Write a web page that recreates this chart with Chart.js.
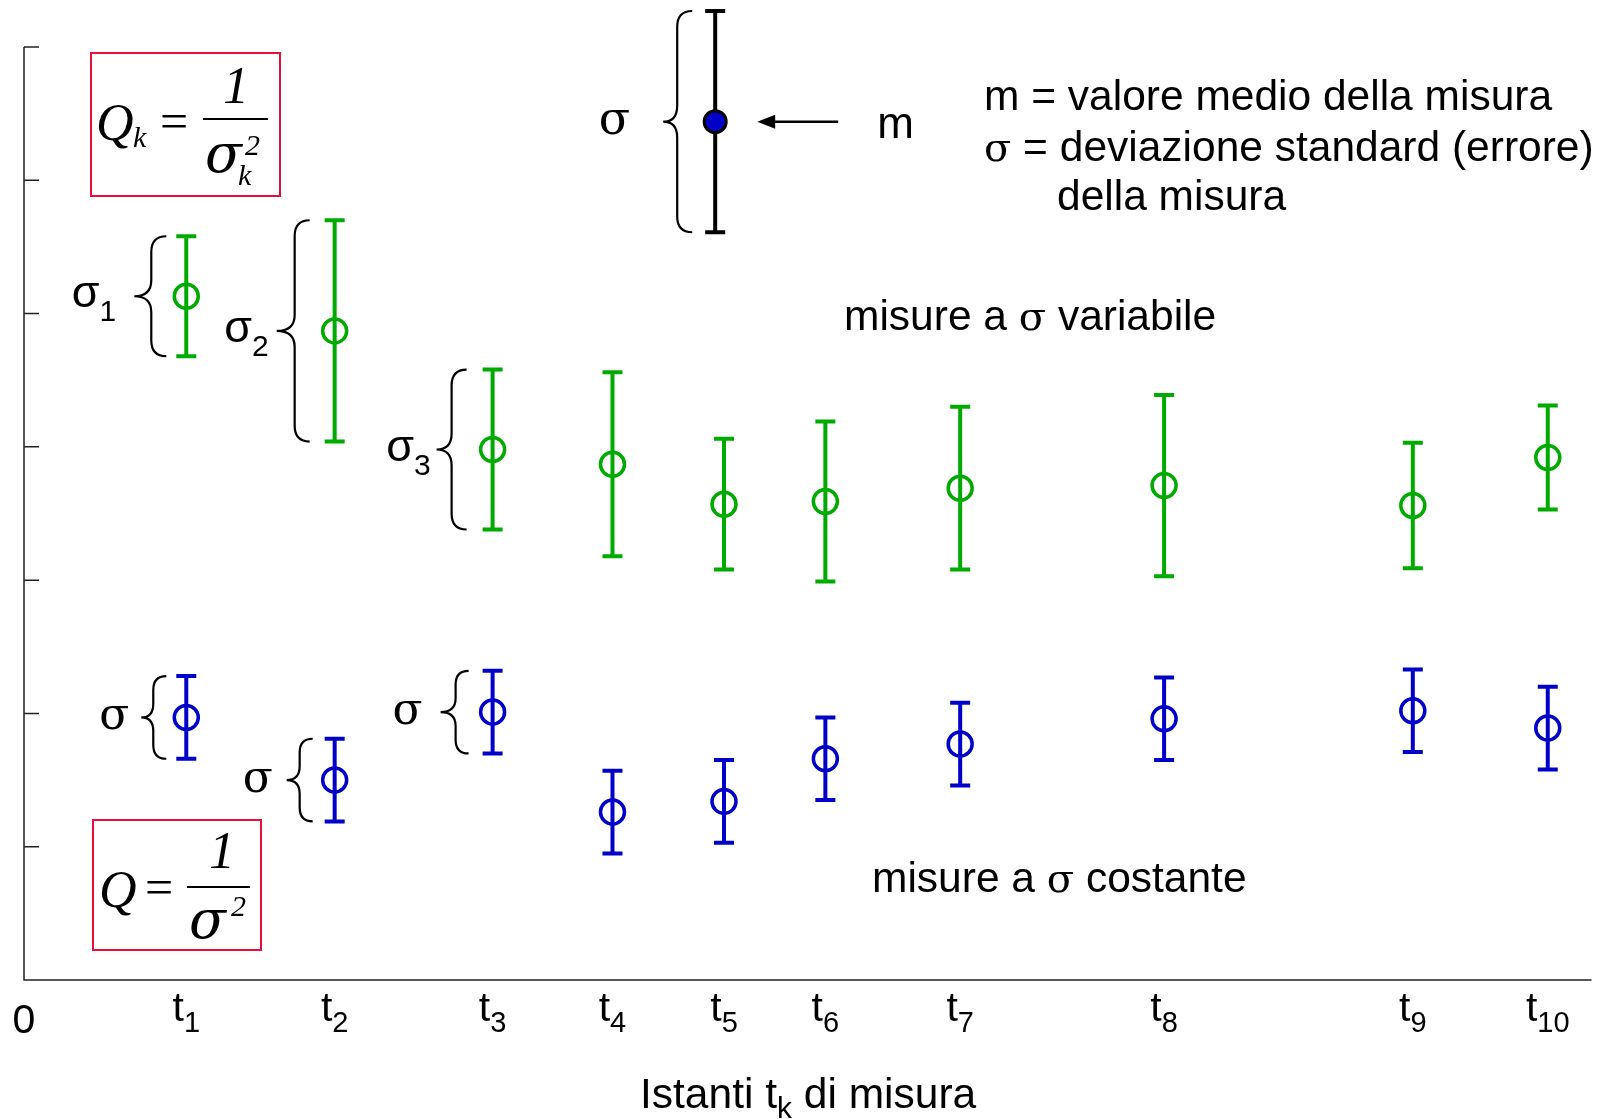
<!DOCTYPE html>
<html>
<head>
<meta charset="utf-8">
<script src="https://cdn.jsdelivr.net/npm/chart.js@4/dist/chart.umd.min.js"></script>
<style>
  html, body { margin: 0; padding: 0; background: #fff; }
  #wrap { width: 1607px; height: 1119px; position: relative; }
</style>
</head>
<body>
<div id="wrap"><canvas id="chart"></canvas></div>
<script>
// measurement instants (x axis, arbitrary time units) and their subscripts
const tSubs = ['1', '2', '3', '4', '5', '6', '7', '8', '9', '10'];
const tValues = [1.087, 2.081, 3.139, 3.942, 4.689, 5.368, 6.271, 7.637, 9.303, 10.207];

// measures with variable sigma (green)
const greenMean = [5.13, 4.87, 3.98, 3.87, 3.57, 3.59, 3.69, 3.71, 3.56, 3.92];
const greenSigma = [0.45, 0.83, 0.60, 0.69, 0.49, 0.60, 0.61, 0.68, 0.47, 0.39];

// measures with constant sigma (blue)
const blueMean = [1.97, 1.50, 2.01, 1.26, 1.34, 1.66, 1.77, 1.96, 2.02, 1.89];
const blueSigma = [0.31, 0.31, 0.31, 0.31, 0.31, 0.31, 0.31, 0.31, 0.31, 0.31];

// reference point explaining m and sigma
const refT = [4.63];
const refMean = [6.44];
const refSigma = [0.83];

const yTicks = [0, 1, 2, 3, 4, 5, 6, 7];
const xMin = 0, xMax = 10.5, yMin = 0, yMax = 7;

const GREEN = '#00aa00';
const BLUE = '#0000c8';
const RED = '#e8103a';
const SANS = '"Liberation Sans", Arial, sans-serif';
const SERIF = '"Liberation Serif", "Times New Roman", serif';
const GREEK = '"DejaVu Serif", serif';
const TXT = '42.5px ' + SANS;

// braces drawn left of some error bars: offsets in px from the bar
const braces = [
  { set: 'green', i: 0, sub: '1', end: -20, spine: -35, tip: -52, labelRight: -70 },
  { set: 'green', i: 1, sub: '2', end: -25, spine: -40, tip: -58, labelRight: -66 },
  { set: 'green', i: 2, sub: '3', end: -26, spine: -41, tip: -56, labelRight: -62 },
  { set: 'blue', i: 0, end: -20, spine: -33, tip: -45, labelRight: -57 },
  { set: 'blue', i: 1, end: -22, spine: -35, tip: -48, labelRight: -62 },
  { set: 'blue', i: 2, end: -24, spine: -37, tip: -52, labelRight: -70 },
  { set: 'ref', i: 0, end: -23, spine: -38, tip: -52, labelRight: -85 }
];

const sets = {
  green: { t: tValues, m: greenMean, s: greenSigma, color: GREEN },
  blue: { t: tValues, m: blueMean, s: blueSigma, color: BLUE },
  ref: { t: refT, m: refMean, s: refSigma, color: '#000' }
};

function points(ts, ms) {
  return ts.map((t, i) => ({ x: t, y: ms[i] }));
}

function text(ctx, str, x, y, font, align) {
  ctx.font = font;
  ctx.textAlign = align || 'left';
  ctx.textBaseline = 'alphabetic';
  ctx.fillText(str, x, y);
  return ctx.measureText(str).width;
}

function drawBrace(ctx, xEnd, xSpine, xTip, yTop, yBot) {
  const yMid = (yTop + yBot) / 2;
  const r = Math.min(16, (yBot - yTop) / 6);
  ctx.beginPath();
  ctx.moveTo(xEnd, yTop);
  ctx.quadraticCurveTo(xSpine, yTop, xSpine, yTop + r);
  ctx.lineTo(xSpine, yMid - r);
  ctx.quadraticCurveTo(xSpine, yMid, xTip, yMid);
  ctx.quadraticCurveTo(xSpine, yMid, xSpine, yMid + r);
  ctx.lineTo(xSpine, yBot - r);
  ctx.quadraticCurveTo(xSpine, yBot, xEnd, yBot);
  ctx.stroke();
}

const errorBars = {
  id: 'errorBars',
  beforeDatasetsDraw(chart) {
    const ctx = chart.ctx;
    const xs = chart.scales.x, ys = chart.scales.y;
    ctx.save();
    ctx.lineCap = 'butt';
    Object.values(sets).forEach(set => {
      ctx.strokeStyle = set.color;
      ctx.lineWidth = 4;
      set.t.forEach((t, i) => {
        const px = xs.getPixelForValue(t);
        const top = ys.getPixelForValue(set.m[i] + set.s[i]);
        const bot = ys.getPixelForValue(set.m[i] - set.s[i]);
        ctx.beginPath();
        ctx.moveTo(px, top); ctx.lineTo(px, bot);
        ctx.moveTo(px - 10, top); ctx.lineTo(px + 10, top);
        ctx.moveTo(px - 10, bot); ctx.lineTo(px + 10, bot);
        ctx.stroke();
      });
    });
    ctx.restore();
  }
};

const decorations = {
  id: 'decorations',
  afterDatasetsDraw(chart) {
    const ctx = chart.ctx;
    const xs = chart.scales.x, ys = chart.scales.y;
    const x0 = xs.getPixelForValue(xMin);
    const y0 = ys.getPixelForValue(yMin);
    ctx.save();

    // axes
    ctx.strokeStyle = '#222';
    ctx.lineWidth = 1.5;
    ctx.beginPath();
    ctx.moveTo(x0, ys.getPixelForValue(yMax));
    ctx.lineTo(x0, y0);
    ctx.lineTo(xs.getPixelForValue(xMax), y0);
    yTicks.forEach(v => {
      const py = ys.getPixelForValue(v);
      ctx.moveTo(x0, py); ctx.lineTo(x0 + 15, py);
    });
    ctx.stroke();

    // x tick labels t_k
    ctx.fillStyle = '#000';
    text(ctx, '0', x0, 1033, '41px ' + SANS, 'center');
    tValues.forEach((t, i) => {
      const px = xs.getPixelForValue(t);
      ctx.font = '41px ' + SANS;
      const wT = ctx.measureText('t').width;
      ctx.font = '29px ' + SANS;
      const wS = ctx.measureText(tSubs[i]).width;
      const left = px - (wT + wS) / 2;
      text(ctx, 't', left, 1021, '41px ' + SANS);
      text(ctx, tSubs[i], left + wT, 1032, '29px ' + SANS);
    });

    // x axis title
    let cx = 640;
    cx += text(ctx, 'Istanti t', cx, 1108, TXT);
    cx += text(ctx, 'k', cx, 1118, '30px ' + SANS);
    text(ctx, ' di misura', cx, 1108, TXT);

    // braces with sigma labels
    ctx.strokeStyle = '#000';
    ctx.lineWidth = 2.2;
    braces.forEach(b => {
      const set = sets[b.set];
      const px = xs.getPixelForValue(set.t[b.i]);
      const top = ys.getPixelForValue(set.m[b.i] + set.s[b.i]);
      const bot = ys.getPixelForValue(set.m[b.i] - set.s[b.i]);
      const mid = (top + bot) / 2;
      drawBrace(ctx, px + b.end, px + b.spine, px + b.tip, top, bot);
      if (b.sub) {
        ctx.font = '30px ' + SANS;
        const wS = ctx.measureText(b.sub).width;
        text(ctx, b.sub, px + b.labelRight, mid + 25, '30px ' + SANS, 'right');
        text(ctx, 'σ', px + b.labelRight - wS, mid + 11, '45px ' + SANS, 'right');
      } else {
        const size = b.set === 'ref' ? 46 : 44;
        text(ctx, 'σ', px + b.labelRight, mid + 12, size + 'px ' + GREEK, 'right');
      }
    });

    // arrow pointing at m
    const rx = xs.getPixelForValue(refT[0]);
    const ry = ys.getPixelForValue(refMean[0]);
    ctx.lineWidth = 2.5;
    ctx.beginPath();
    ctx.moveTo(rx + 123, ry); ctx.lineTo(rx + 55, ry);
    ctx.stroke();
    ctx.beginPath();
    ctx.moveTo(rx + 42, ry);
    ctx.lineTo(rx + 60, ry - 7);
    ctx.lineTo(rx + 60, ry + 7);
    ctx.closePath();
    ctx.fill();
    text(ctx, 'm', rx + 162, ry + 16, '44px ' + SANS);

    // explanation text
    text(ctx, 'm = valore medio della misura', 984, 110, TXT);
    let lx = 984;
    lx += text(ctx, 'σ', lx, 161, '40px ' + GREEK);
    text(ctx, ' = deviazione standard (errore)', lx, 161, TXT);
    text(ctx, 'della misura', 1057, 210, TXT);

    lx = 844;
    lx += text(ctx, 'misure a ', lx, 330, TXT);
    lx += text(ctx, 'σ', lx, 330, '40px ' + GREEK);
    text(ctx, ' variabile', lx, 330, TXT);

    lx = 872;
    lx += text(ctx, 'misure a ', lx, 892, TXT);
    lx += text(ctx, 'σ', lx, 892, '40px ' + GREEK);
    text(ctx, ' costante', lx, 892, TXT);

    // formula boxes
    ctx.strokeStyle = RED;
    ctx.lineWidth = 2;
    ctx.strokeRect(91, 53, 189, 143);
    ctx.strokeRect(93, 820, 168, 130);

    const IT = 'italic 52px ' + SERIF;
    const SIG = 'italic 54px ' + GREEK;
    const ITs = 'italic 30px ' + SERIF;
    ctx.fillStyle = '#000';
    ctx.strokeStyle = '#000';
    ctx.lineWidth = 2;
    // Q_k = 1 / sigma_k^2
    text(ctx, 'Q', 96, 140, IT);
    text(ctx, 'k', 133, 147, ITs);
    text(ctx, '=', 160, 138, '50px ' + SERIF);
    ctx.beginPath(); ctx.moveTo(203, 119); ctx.lineTo(268, 119); ctx.stroke();
    text(ctx, '1', 236, 103, IT, 'center');
    text(ctx, 'σ', 205, 172, SIG);
    text(ctx, '2', 245, 155, ITs);
    text(ctx, 'k', 238, 185, ITs);
    // Q = 1 / sigma^2
    text(ctx, 'Q', 99, 907, IT);
    text(ctx, '=', 145, 904, '50px ' + SERIF);
    ctx.beginPath(); ctx.moveTo(187, 887); ctx.lineTo(250, 887); ctx.stroke();
    text(ctx, '1', 222, 868, IT, 'center');
    text(ctx, 'σ', 189, 938, SIG);
    text(ctx, '2', 231, 916, ITs);

    ctx.restore();
  }
};

new Chart(document.getElementById('chart'), {
  type: 'scatter',
  data: {
    datasets: [
      {
        label: 'misure a σ variabile',
        data: points(tValues, greenMean),
        borderColor: GREEN,
        backgroundColor: 'rgba(0,0,0,0)',
        pointRadius: 12,
        borderWidth: 3.5,
        clip: false
      },
      {
        label: 'misure a σ costante',
        data: points(tValues, blueMean),
        borderColor: BLUE,
        backgroundColor: 'rgba(0,0,0,0)',
        pointRadius: 12,
        borderWidth: 3.5,
        clip: false
      },
      {
        label: 'm',
        data: points(refT, refMean),
        borderColor: '#000',
        backgroundColor: BLUE,
        pointRadius: 11,
        borderWidth: 3,
        clip: false
      }
    ]
  },
  options: {
    responsive: true,
    maintainAspectRatio: false,
    animation: false,
    events: [],
    layout: { padding: { left: 24, right: 13, top: 47, bottom: 139 } },
    plugins: {
      legend: { display: false },
      tooltip: { enabled: false }
    },
    scales: {
      x: { type: 'linear', min: xMin, max: xMax, display: false },
      y: { type: 'linear', min: yMin, max: yMax, display: false }
    }
  },
  plugins: [errorBars, decorations]
});
</script>
</body>
</html>
